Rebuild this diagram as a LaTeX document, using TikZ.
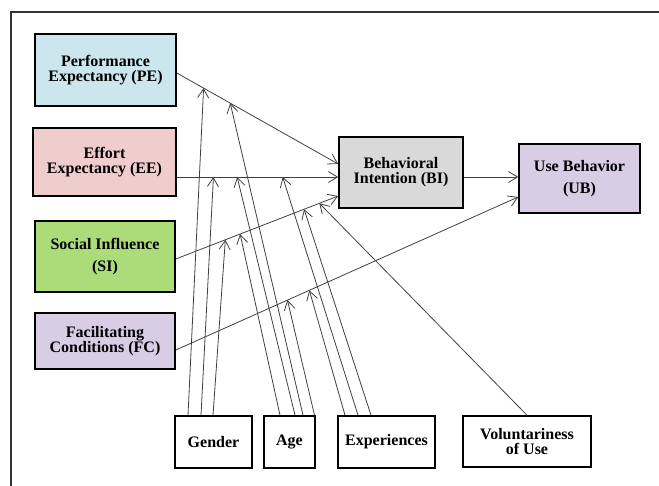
\documentclass[tikz,border=0pt]{standalone}
\usepackage{fontspec}
\setmainfont{Liberation Serif}
\usepackage{tikz}
\usetikzlibrary{arrows.meta}

\definecolor{peblue}{RGB}{204,230,238}
\definecolor{eepink}{RGB}{240,205,205}
\definecolor{sigreen}{RGB}{172,219,122}
\definecolor{fclilac}{RGB}{217,205,229}
\definecolor{bigray}{RGB}{217,217,217}

\begin{document}
\begin{tikzpicture}[x=1pt,y=-1pt,>={Straight Barb[length=9pt,width=11pt]},
		font=\fontsize{16}{15}\selectfont\bfseries,
		construct/.style={draw=black, line width=1.6pt, align=center, inner sep=0pt},
		link/.style={->, draw=black!75, line width=0.8pt},
	]
		\useasboundingbox (0,0) rectangle (659,486);
		\draw[line width=1.8pt, black!80] (11,486) -- (11,12) -- (659,12);

		\node[construct, fill=peblue, minimum width=141pt, minimum height=72pt] (pe) at (105.5,70) {Performance\\Expectancy (PE)};
		\node[construct, fill=eepink, minimum width=143pt, minimum height=68pt] (ee) at (104.5,162) {Effort\\Expectancy (EE)};
		\node[construct, fill=sigreen, minimum width=140pt, minimum height=71pt] (si) at (105,256.5) {Social Influence\\[7pt](SI)};
		\node[construct, fill=fclilac, minimum width=140pt, minimum height=56pt] (fc) at (105,341) {Facilitating\\Conditions (FC)};
		\node[construct, fill=bigray, minimum width=124pt, minimum height=71pt] (bi) at (401,172.5) {Behavioral\\Intention (BI)};
		\node[construct, fill=fclilac, minimum width=121pt, minimum height=69pt] (ub) at (579.5,178.5) {Use Behavior\\[7pt](UB)};
%		moderators
		\node[construct, minimum width=77pt, minimum height=52pt] (gender) at (213.5,442) {Gender};
		\node[construct, minimum width=51pt, minimum height=52pt] (age) at (289.5,442) {Age};
		\node[construct, minimum width=97pt, minimum height=52pt] (exp) at (386.5,442) {Experiences};
		\node[construct, minimum width=128pt, minimum height=51pt] (vol) at (527,441.5) {Voluntariness\\of Use};

		\draw[link] ([yshift=-3pt]pe.east) -- ([yshift=8.5pt]bi.west)
			coordinate[pos=.166] (pe-g) coordinate[pos=.331] (pe-a);
		\draw[link] ([yshift=-15pt]ee.east) -- ([yshift=-4.5pt]bi.west)
			coordinate[pos=.227] (ee-g) coordinate[pos=.374] (ee-a) coordinate[pos=.656] (ee-x);
		\draw[link] ([yshift=-2.5pt]si.east) -- ([yshift=-23.5pt]bi.west)
			coordinate[pos=.305] (si-g) coordinate[pos=.396] (si-a) coordinate[pos=.79] (si-x) coordinate[pos=.884] (si-v);
		\draw[link] ([yshift=-9pt]fc.east) -- ([yshift=-18.5pt]ub.west)
			coordinate[pos=.326] (fc-a) coordinate[pos=.39] (fc-x);
		\draw[link] ([yshift=-4.5pt]bi.east) -- ([yshift=1.5pt]ub.west);

		\foreach \dx/\tgt in {-25.5/pe-g, -12.5/ee-g, -0.5/si-g}
			\draw[link] ([xshift=\dx pt]gender.north) -- (\tgt);
		\foreach \dx/\tgt in {-9.5/si-a, 5.5/ee-a, 13.5/pe-a, 25/fc-a}
			\draw[link] ([xshift=\dx pt]age.north) -- (\tgt);
		\foreach \dx/\tgt in {-41.5/fc-x, -28.5/ee-x, -15.5/si-x}
			\draw[link] ([xshift=\dx pt]exp.north) -- (\tgt);
		\draw[link] (vol.north) -- (si-v);
	\end{tikzpicture}
\end{document}
